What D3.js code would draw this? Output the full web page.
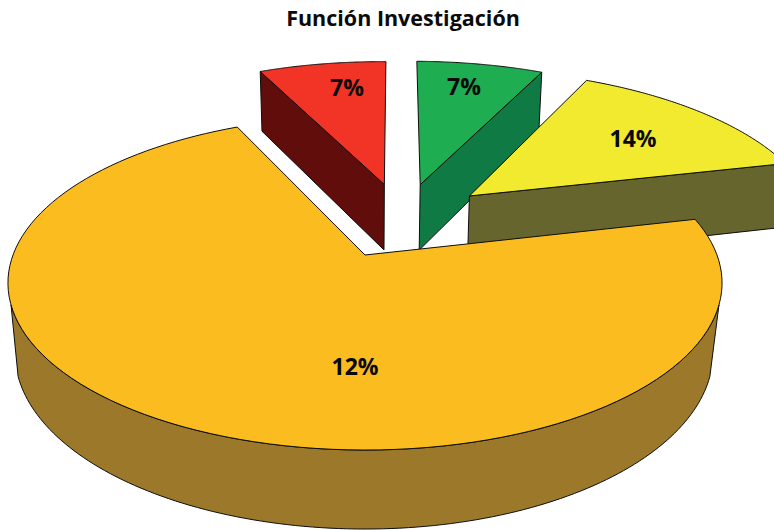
<!DOCTYPE html>
<html>
<head>
<meta charset="utf-8">
<script src="https://cdn.jsdelivr.net/npm/d3@7"></script>
<style>
html,body{margin:0;padding:0;background:#fff;}
svg{display:block;}
text{font-family:"Open Sans",sans-serif;font-weight:700;fill:#0a0a0a;text-anchor:middle;}
</style>
</head>
<body>
<svg id="chart" width="774" height="530"></svg>
<script>
// Data, in drawing order of the pie (clockwise from the large slice)
const categories = ["Naranja", "Rojo", "Verde", "Amarillo"];
const values = [71.8, 7.1, 7.0, 14.1];
const labels = ["12%", "7%", "7%", "14%"];
const title = "Función Investigación";

// Styles
const topColors = ["#FBBC20", "#F23427", "#1FAD52", "#F2EA2F"];
const sideColors = ["#9C782B", "#610D0B", "#0F7A43", "#66652E"];
const labelPos = [[355, 375], [347, 96], [464, 95], [633, 147]];
const radii = [1, 1.02, 1.025, 1.03];
const explodes = [0, 0.25, 0.25, 0.262];

// Perspective projection of the pie plane
const rad = d => d * Math.PI / 180;
const cx = 365;
const top_ = {a: -119.55, b: 255, c: 0.1677, A: 352};
const bot_ = {a: -116.1, b: 324, c: 0.1681};
const taper = 0.00028;
const taperRight = 0.00036;
const base = [0.111, 0.224];

function projTop(u, v) {
  const w = 1 + top_.c * v;
  return [cx + top_.A * u / w, (top_.a * v + top_.b) / w];
}
function projBot(u, v, k) {
  const t = projTop(u, v);
  const w = 1 + bot_.c * v;
  const y = (bot_.a * v + bot_.b) / w;
  return [cx + (t[0] - cx) * (1 - (k || taper) * (y - t[1])), y];
}

const pie = d3.pie().sort(null).startAngle(rad(76.8)).endAngle(rad(76.8 + 360));
const arcs = pie(values);
const line = d3.line().curve(d3.curveLinear);
const svg = d3.select("#chart");

function sliceGeom(d, r, e) {
  const mid = (d.startAngle + d.endAngle) / 2;
  const o = [base[0] + e * Math.sin(mid), base[1] + e * Math.cos(mid)];
  const disc = a => [o[0] + r * Math.sin(a), o[1] + r * Math.cos(a)];
  const steps = a0 => d3.range(0, 121).map(i => a0[0] + (a0[1] - a0[0]) * i / 120);
  return {o, disc, steps};
}

// Back slices first, the large slice last so it covers their feet
[1, 2, 3, 0].forEach(i => {
  const d = arcs[i];
  const g = i === 0
    ? {o: [0, 0], disc: a => [Math.sin(a), Math.cos(a)], steps: sliceGeom(d, 1, 0).steps}
    : sliceGeom(d, radii[i], explodes[i]);
  const gr = svg.append("g").attr("class", "slice").attr("data-category", categories[i]);
  const style = (sel, fill) => sel.attr("fill", fill).attr("stroke", "#0d0d0d")
    .attr("stroke-width", 1).attr("stroke-linejoin", "round");

  if (i === 0) {
    // outer wall between the silhouette tangents
    const th = g.steps([rad(107), rad(253)]);
    const up = th.map(a => projTop(...g.disc(a)));
    const dn = th.map(a => {
      const p = g.disc(a);
      return projBot(p[0], p[1], p[0] > 0 ? taperRight : taper);
    }).reverse();
    style(gr.append("path").attr("d", line(up.concat(dn)) + "Z"), sideColors[i]);
  } else {
    // visible cut face
    const a = i === 1 ? d.startAngle : d.endAngle;
    const p = g.disc(a);
    const quad = [projTop(...g.o), projTop(...p), projBot(...p), projBot(...g.o)];
    style(gr.append("path").attr("d", line(quad) + "Z"), sideColors[i]);
  }
  const rim = g.steps([d.startAngle, d.endAngle]).map(a => projTop(...g.disc(a)));
  style(gr.append("path").attr("d", line([projTop(...g.o)].concat(rim)) + "Z"), topColors[i]);
});

svg.append("g").selectAll("text").data(labels).join("text")
  .attr("x", (d, i) => labelPos[i][0])
  .attr("y", (d, i) => labelPos[i][1])
  .attr("font-size", 23)
  .text(d => d);

svg.append("text").attr("x", 403).attr("y", 26).attr("font-size", 21.5).text(title);
</script>
</body>
</html>
